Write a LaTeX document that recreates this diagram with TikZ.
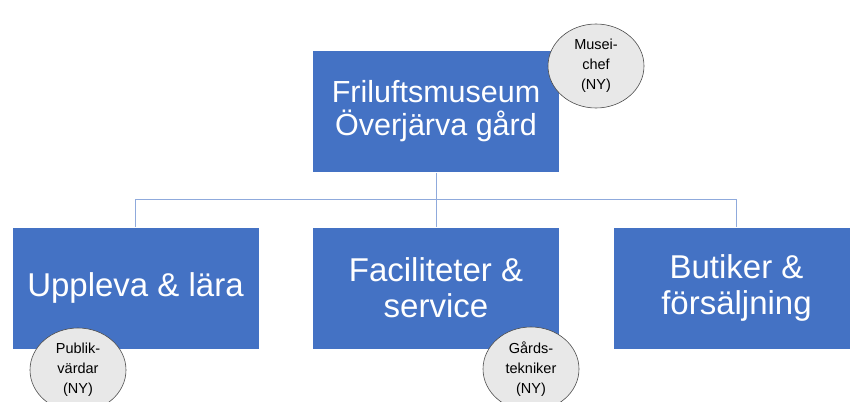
\documentclass[tikz,border=0pt]{standalone}
\usepackage{fontspec}
\setmainfont{Liberation Sans}
\usetikzlibrary{shapes.geometric}
\definecolor{unitblue}{HTML}{4472C4}
\definecolor{linkblue}{HTML}{8FAADC}
\definecolor{rolegray}{HTML}{E8E8E8}

\begin{document}
\begin{tikzpicture}[x=1pt, y=-1pt,
	unit/.style={fill=unitblue, draw=white, line width=0.5pt, text=white, align=center, minimum width=247pt, minimum height=122pt, inner sep=0pt, font=\fontsize{33}{36}\selectfont},
	role/.style={ellipse, fill=rolegray, draw=black!70, line width=0.6pt, minimum width=96pt, minimum height=84pt, inner sep=0pt, align=center, font=\fontsize{14.5}{20}\selectfont},
	link/.style={draw=linkblue, line width=1pt}]
		\useasboundingbox (0,0) rectangle (850,401);
		\node[unit, font=\fontsize{30.5}{33}\selectfont] (museum) at (436,111.5) {Friluftsmuseum\\Överjärva gård};
		\node[unit] (uppleva) at (135.5,288) {Uppleva \& lära};
		\node[unit] (facilitet) at (436,288) {Faciliteter \&\\service};
		\node[unit] (butik) at (736.5,288) {Butiker \&\\försäljning};
		\coordinate (bus) at (436,199);
		\draw[link] (museum.south) -- (bus);
		\draw[link] (bus) -| (uppleva.north);
		\draw[link] (bus) -- (facilitet.north);
		\draw[link] (bus) -| (butik.north);
		\node[role] (chef) at (596,66) {Musei-\\chef\\(NY)};
		\node[role] (publik) at (78,370) {Publik-\\värdar\\(NY)};
		\node[role] (teknik) at (531,369) {Gårds-\\tekniker\\(NY)};
	\end{tikzpicture}
\end{document}
